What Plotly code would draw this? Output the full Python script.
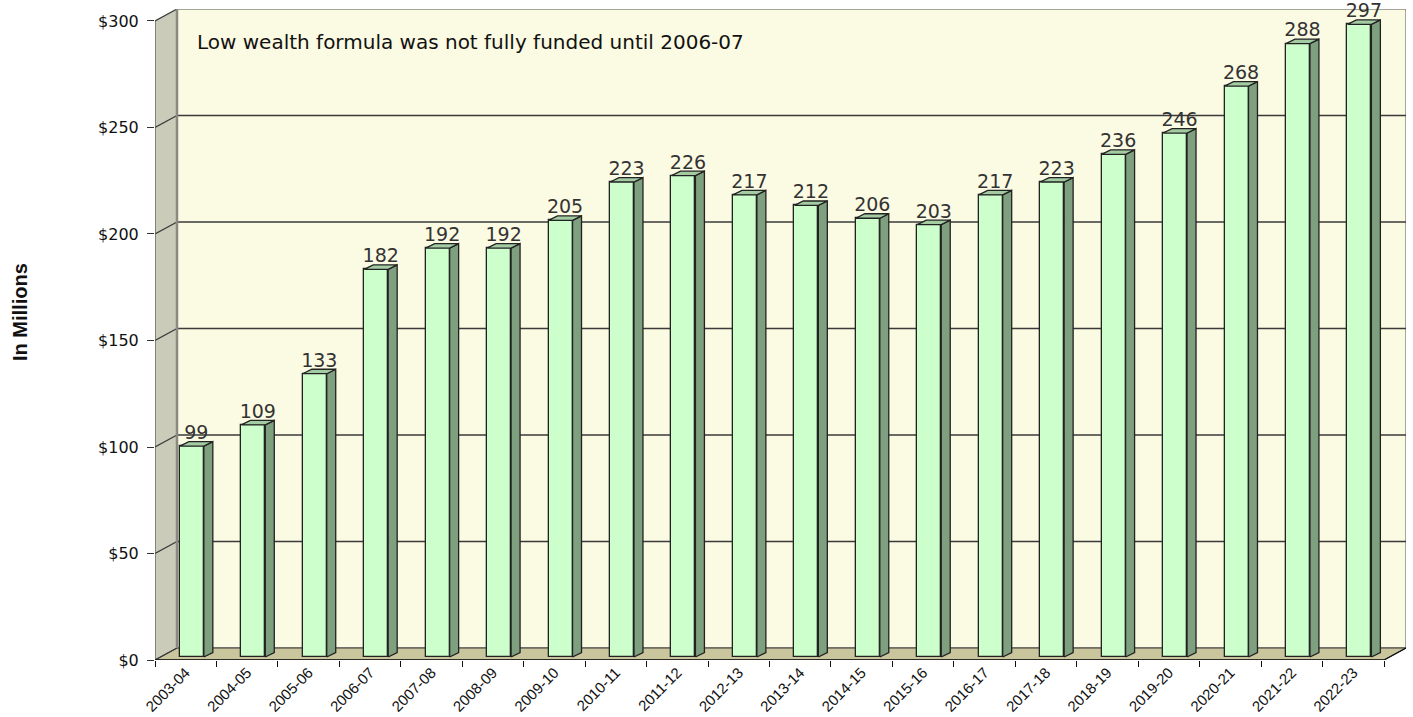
import plotly.graph_objects as go

# ---- data ----
CATEGORIES = ["2003-04", "2004-05", "2005-06", "2006-07", "2007-08", "2008-09", "2009-10",
              "2010-11", "2011-12", "2012-13", "2013-14", "2014-15", "2015-16", "2016-17",
              "2017-18", "2018-19", "2019-20", "2020-21", "2021-22", "2022-23"]
VALUES = [99, 109, 133, 182, 192, 192, 205, 223, 226, 217, 212, 206, 203, 217, 223, 236, 246, 268, 288, 297]
Y_TICKS = [0, 50, 100, 150, 200, 250, 300]
Y_TICK_TEXT = ["$0", "$50", "$100", "$150", "$200", "$250", "$300"]
NOTE = "Low wealth formula was not fully funded until 2006-07"
Y_TITLE = "In Millions"

# ---- geometry / style (3D look) ----
W, H = 1413, 717
ML, MR, MT, MB = 155, 7, 9, 57
N = len(CATEGORIES)
YMAX = Y_TICKS[-1]
DX = 0.358          # wall depth in category units
DY = 5.63           # wall depth in value units
BAR_SHIFT_X = 0.10  # bar front-face offset into the depth
BAR_BASE = 1.4
BAR_W = 0.39
BAR_DX = 0.146
BAR_DY = 2.1
LABEL_DROP = 1.0

BACK_WALL = "#FBFAE2"
SIDE_WALL = "#CBCBBA"
FLOOR = "#C9C59D"
BAR_FRONT = "#CCFFCC"
BAR_SIDE = "#7FA07F"
BAR_TOP = "#A3CCA3"
EDGE = "#222222"
GRID = "#3a3a3a"

x0, x1 = -0.5, N - 0.5

fig = go.Figure()

# front faces
xs = [i + BAR_SHIFT_X for i in range(N)]
fig.add_trace(go.Bar(x=xs, y=VALUES, base=BAR_BASE, width=BAR_W,
                     marker=dict(color=BAR_FRONT, line=dict(color=EDGE, width=1.3)),
                     hoverinfo="skip", showlegend=False))

# side faces and top faces
sx, sy, tx, ty = [], [], [], []
for xc, v in zip(xs, VALUES):
    xl, xr = xc - BAR_W / 2, xc + BAR_W / 2
    top = BAR_BASE + v
    sx += [xr, xr + BAR_DX, xr + BAR_DX, xr, xr, None]
    sy += [BAR_BASE, BAR_BASE + BAR_DY, top + BAR_DY, top, BAR_BASE, None]
    tx += [xl, xr, xr + BAR_DX, xl + BAR_DX, xl, None]
    ty += [top, top, top + BAR_DY, top + BAR_DY, top, None]
fig.add_trace(go.Scatter(x=sx, y=sy, mode="lines", fill="toself", fillcolor=BAR_SIDE,
                         line=dict(color=EDGE, width=1.3), hoverinfo="skip", showlegend=False))
fig.add_trace(go.Scatter(x=tx, y=ty, mode="lines", fill="toself", fillcolor=BAR_TOP,
                         line=dict(color=EDGE, width=1.3), hoverinfo="skip", showlegend=False))

# value labels
fig.add_trace(go.Scatter(x=[xc + BAR_DX / 2 for xc in xs],
                         y=[BAR_BASE + v + BAR_DY - LABEL_DROP for v in VALUES],
                         mode="text", text=[str(v) for v in VALUES], textposition="top center",
                         textfont=dict(family="DejaVu Sans", size=19, color="#333333"),
                         cliponaxis=False, hoverinfo="skip", showlegend=False))

shapes = []
# back wall
shapes.append(dict(type="rect", xref="x", yref="y", x0=x0 + DX, x1=x1 + DX, y0=DY, y1=YMAX + DY,
                   fillcolor=BACK_WALL, line=dict(color="#8a8a80", width=1.5), layer="below"))
# side wall
shapes.append(dict(type="path", xref="x", yref="y",
                   path=f"M {x0},0 L {x0},{YMAX} L {x0+DX},{YMAX+DY} L {x0+DX},{DY} Z",
                   fillcolor=SIDE_WALL, line=dict(width=0), layer="below"))
# floor
shapes.append(dict(type="path", xref="x", yref="y",
                   path=f"M {x0},0 L {x1},0 L {x1+DX},{DY} L {x0+DX},{DY} Z",
                   fillcolor=FLOOR, line=dict(color=GRID, width=1), layer="below"))
# gridlines (side + back)
for v in Y_TICKS:
    shapes.append(dict(type="line", xref="x", yref="y", x0=x0, y0=v, x1=x0 + DX, y1=v + DY,
                       line=dict(color=GRID, width=1.3), layer="below"))
    if 0 < v < YMAX:
        shapes.append(dict(type="line", xref="x", yref="y", x0=x0 + DX, y0=v + DY, x1=x1 + DX, y1=v + DY,
                           line=dict(color=GRID, width=1.3), layer="below"))
# back-left edge of wall
shapes.append(dict(type="line", xref="x", yref="y", x0=x0 + DX, y0=DY, x1=x0 + DX, y1=YMAX + DY,
                   line=dict(color="#8a8a80", width=2.5), layer="below"))
# front axis lines
shapes.append(dict(type="line", xref="x", yref="y", x0=x0, y0=0, x1=x0, y1=YMAX,
                   line=dict(color="#555555", width=1.2), layer="below"))
shapes.append(dict(type="line", xref="x", yref="y", x0=x0, y0=0, x1=x1, y1=0,
                   line=dict(color="#111111", width=1.3), layer="below"))
shapes.append(dict(type="line", xref="x", yref="y", x0=x1, y0=0, x1=x1 + DX, y1=DY,
                   line=dict(color="#111111", width=1.3), layer="below"))

plot_w = W - ML - MR
plot_h = H - MT - MB
annotations = [
    dict(text=NOTE, xref="paper", yref="paper", x=(195 - ML) / plot_w, y=(H - MB - 42) / plot_h,
         xanchor="left", yanchor="middle", showarrow=False,
         font=dict(family="DejaVu Sans", size=20, color="#111111")),
    dict(text=f"<b>{Y_TITLE}</b>", xref="paper", yref="paper", x=(20 - ML) / plot_w,
         y=(H - MB - 312) / plot_h, xanchor="center", yanchor="middle", textangle=-90,
         showarrow=False, font=dict(family="Liberation Sans", size=20, color="#111111")),
]

fig.update_layout(
    width=W, height=H, margin=dict(l=ML, r=MR, t=MT, b=MB, pad=0, autoexpand=False),
    paper_bgcolor="white", plot_bgcolor="white",
    shapes=shapes, annotations=annotations, showlegend=False, bargap=0,
    xaxis=dict(range=[x0, x1 + DX], tickmode="array", tickvals=list(range(N)), ticktext=CATEGORIES,
               tickangle=-45, ticks="", showgrid=False, zeroline=False, showline=False,
               automargin=False,
               tickfont=dict(family="Liberation Sans", size=15, color="#111111"),
               minor=dict(tickvals=[i - 0.5 for i in range(N + 1)], ticks="outside", ticklen=6,
                          tickcolor="#111111", tickwidth=1.2, showgrid=False)),
    yaxis=dict(range=[0, YMAX + DY], tickmode="array", tickvals=Y_TICKS, ticktext=Y_TICK_TEXT,
               ticks="outside", ticklen=7, tickcolor="#333333", tickwidth=1.2,
               ticklabelstandoff=5,
               showgrid=False, zeroline=False, showline=False, automargin=False,
               tickfont=dict(family="DejaVu Sans", size=16, color="#111111")),
)

fig.write_html("out.html", config={"responsive": False, "displayModeBar": False},
               post_script="document.body.style.margin='0';document.body.style.overflow='hidden';")
